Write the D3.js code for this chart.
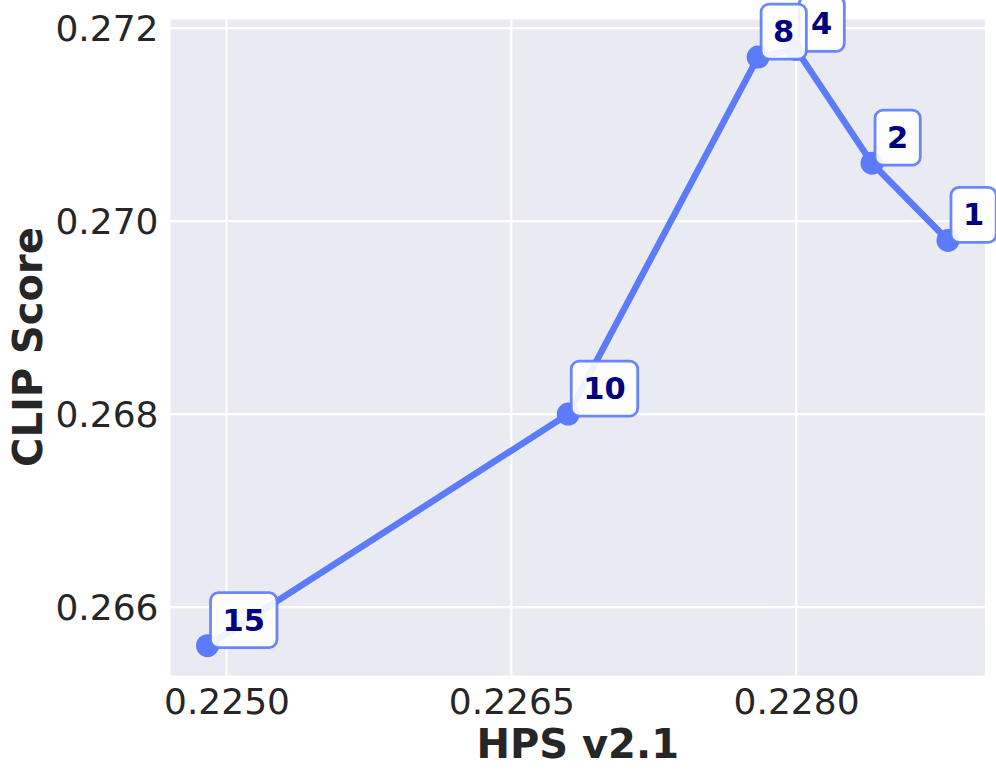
<!DOCTYPE html>
<html>
<head>
<meta charset="utf-8">
<script src="https://cdn.jsdelivr.net/npm/d3@7"></script>
<style>
  html, body { margin: 0; padding: 0; background: #ffffff; }
  svg { display: block; }
</style>
</head>
<body>
<div id="chart"></div>
<script>
// ---- data ----
const labels = ["1", "2", "4", "8", "10", "15"];
const hpsValues = [0.2288, 0.2284, 0.2280, 0.2278, 0.2268, 0.2249];
const clipValues = [0.2698, 0.2706, 0.27178, 0.2717, 0.2680, 0.2656];
const xTicks = [0.2250, 0.2265, 0.2280];
const yTicks = [0.266, 0.268, 0.270, 0.272];
const xLabel = "HPS v2.1";
const yLabel = "CLIP Score";

const W = 996, H = 777;
const margin = { left: 170.5, right: 11, top: 19.5, bottom: 101.5 };
const pw = W - margin.left - margin.right;
const ph = H - margin.top - margin.bottom;

const blue = "#5b7bfa";
const fontFam = "'DejaVu Sans', sans-serif";

function padExtent(vals) {
  const [a, b] = d3.extent(vals);
  const m = (b - a) * 0.05;
  return [a - m, b + m];
}

const x = d3.scaleLinear().domain(padExtent(hpsValues)).range([0, pw]);
const y = d3.scaleLinear().domain(padExtent(clipValues)).range([ph, 0]);

const svg = d3.select("#chart").append("svg").attr("width", W).attr("height", H);
const g = svg.append("g").attr("transform", `translate(${margin.left},${margin.top})`);

g.append("rect").attr("width", pw).attr("height", ph).attr("fill", "#eaeaf2");

// grid
g.append("g").selectAll("line").data(xTicks).join("line")
  .attr("x1", d => x(d)).attr("x2", d => x(d)).attr("y1", 0).attr("y2", ph)
  .attr("stroke", "#ffffff").attr("stroke-width", 2.2);
g.append("g").selectAll("line").data(yTicks).join("line")
  .attr("y1", d => y(d)).attr("y2", d => y(d)).attr("x1", 0).attr("x2", pw)
  .attr("stroke", "#ffffff").attr("stroke-width", 2.2);

// axes (labels only)
const xAxis = d3.axisBottom(x).tickValues(xTicks).tickFormat(d3.format(".4f")).tickSize(0).tickPadding(0);
const xa = g.append("g").attr("transform", `translate(0,${ph})`).call(xAxis);
xa.select(".domain").remove();
xa.selectAll("text").attr("font-family", fontFam).attr("font-size", 36).attr("fill", "#262626")
  .attr("dy", null).attr("y", 38);

const yAxis = d3.axisLeft(y).tickValues(yTicks).tickFormat(d3.format(".3f")).tickSize(0).tickPadding(0);
const ya = g.append("g").call(yAxis);
ya.select(".domain").remove();
ya.selectAll("text").attr("font-family", fontFam).attr("font-size", 36).attr("fill", "#262626")
  .attr("x", -12).attr("dy", "0.35em");

// axis titles
svg.append("text").attr("x", margin.left + x(0.22685) ).attr("y", 758)
  .attr("text-anchor", "middle").attr("font-family", fontFam).attr("font-weight", "bold")
  .attr("font-size", 40).attr("fill", "#262626").text(xLabel);
svg.append("text").attr("transform", `translate(42,347) rotate(-90)`)
  .attr("text-anchor", "middle").attr("font-family", fontFam).attr("font-weight", "bold")
  .attr("font-size", 40).attr("fill", "#262626").text(yLabel);

// line
const pts = labels.map((l, i) => ({ label: l, x: hpsValues[i], y: clipValues[i] }));
const line = d3.line().x(d => x(d.x)).y(d => y(d.y));
g.append("path").datum(pts).attr("d", line).attr("fill", "none")
  .attr("stroke", blue).attr("stroke-width", 6.5).attr("stroke-linejoin", "round");

g.append("g").selectAll("circle").data(pts).join("circle")
  .attr("cx", d => x(d.x)).attr("cy", d => y(d.y)).attr("r", 11.5).attr("fill", blue);

// annotation boxes
const ann = g.append("g");
pts.forEach(d => {
  const px = x(d.x), py = y(d.y);
  const grp = ann.append("g");
  const rect = grp.append("rect");
  const t = grp.append("text").attr("x", px + 15).attr("y", py - 15)
    .attr("font-family", fontFam).attr("font-weight", "bold").attr("font-size", 30.5)
    .attr("fill", "#000080").text(d.label);
  const bb = t.node().getBBox();
  const padX = 12, padY = 10;
  rect.attr("x", bb.x - padX).attr("y", bb.y - padY).attr("width", bb.width + 2 * padX)
    .attr("height", bb.height + 2 * padY).attr("rx", 8).attr("ry", 8)
    .attr("fill", "#ffffff").attr("fill-opacity", 0.9)
    .attr("stroke", blue).attr("stroke-width", 2.8).attr("stroke-opacity", 0.9);
});
</script>
</body>
</html>
